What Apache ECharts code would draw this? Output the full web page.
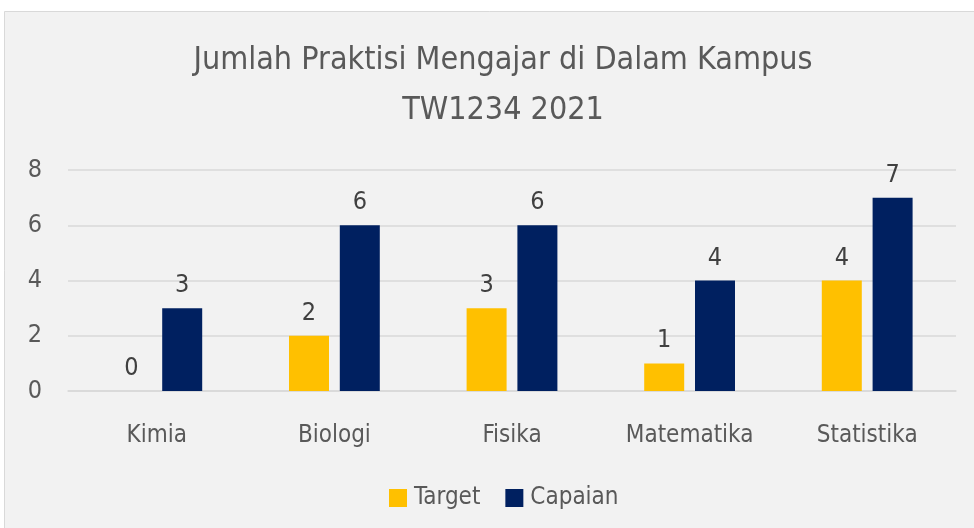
<!DOCTYPE html>
<html>
<head>
<meta charset="utf-8">
<script src="https://cdn.jsdelivr.net/npm/echarts@6/dist/echarts.min.js"></script>
<style>
  html, body { margin: 0; padding: 0; background: #ffffff; }
  #main { width: 974px; height: 528px; }
</style>
</head>
<body>
<div id="main"></div>
<script>
  // data
  var categories = ['Kimia', 'Biologi', 'Fisika', 'Matematika', 'Statistika'];
  var targetValues = [0, 2, 3, 1, 4];
  var capaianValues = [3, 6, 6, 4, 7];
  var seriesNames = ['Target', 'Capaian'];
  var titleLines = ['Jumlah Praktisi Mengajar di Dalam Kampus', 'TW1234 2021'];

  var font = '"DejaVu Sans Condensed", "Liberation Sans Narrow", "Roboto", sans-serif';
  var textColor = '#595959';

  var myChart = echarts.init(document.getElementById('main'));
  myChart.setOption({
    animation: false,
    backgroundColor: '#ffffff',
    textStyle: { fontFamily: font },
    graphic: [{
      type: 'rect',
      z: -10,
      shape: { x: 4.5, y: 11.5, width: 1000, height: 600 },
      style: { fill: '#f2f2f2', stroke: '#d9d9d9', lineWidth: 1 },
      silent: true
    }],
    title: {
      text: titleLines.join('\n'),
      left: 498,
      textAlign: 'center',
      top: 31,
      textStyle: {
        fontFamily: font,
        fontSize: 32,
        fontWeight: 'normal',
        color: textColor,
        lineHeight: 50
      }
    },
    legend: {
      data: seriesNames,
      left: 384,
      top: 481,
      itemWidth: 18,
      itemHeight: 18,
      itemGap: 25,
      icon: 'rect',
      textStyle: { fontFamily: font, fontSize: 24, color: textColor, padding: [0, 0, 0, 2] }
    },
    grid: {
      left: 68,
      right: 18,
      top: 170,
      bottom: 137,
      containLabel: false
    },
    xAxis: {
      type: 'category',
      data: categories,
      axisLine: { show: true, lineStyle: { color: '#d9d9d9', width: 1.5 } },
      axisTick: { show: false },
      axisLabel: { fontFamily: font, fontSize: 24, color: textColor, margin: 33 }
    },
    yAxis: {
      type: 'value',
      min: 0,
      max: 8,
      interval: 2,
      axisLine: { show: false },
      axisTick: { show: false },
      axisLabel: { fontFamily: font, fontSize: 25, color: textColor, margin: 26 },
      splitLine: { lineStyle: { color: '#d9d9d9', width: 1.5 } }
    },
    series: [{
      name: seriesNames[0],
      type: 'bar',
      data: targetValues,
      barWidth: 40,
      barGap: '27%',
      itemStyle: { color: '#FFC000' },
      label: {
        show: true,
        position: 'top',
        distance: 10,
        fontFamily: font,
        fontSize: 25,
        color: '#404040'
      }
    }, {
      name: seriesNames[1],
      type: 'bar',
      data: capaianValues,
      barWidth: 40,
      barGap: '27%',
      itemStyle: { color: '#002060' },
      label: {
        show: true,
        position: 'top',
        distance: 10,
        fontFamily: font,
        fontSize: 25,
        color: '#404040'
      }
    }]
  });
  window.onresize = function () {
    myChart.resize();
  };
</script>
</body>
</html>
